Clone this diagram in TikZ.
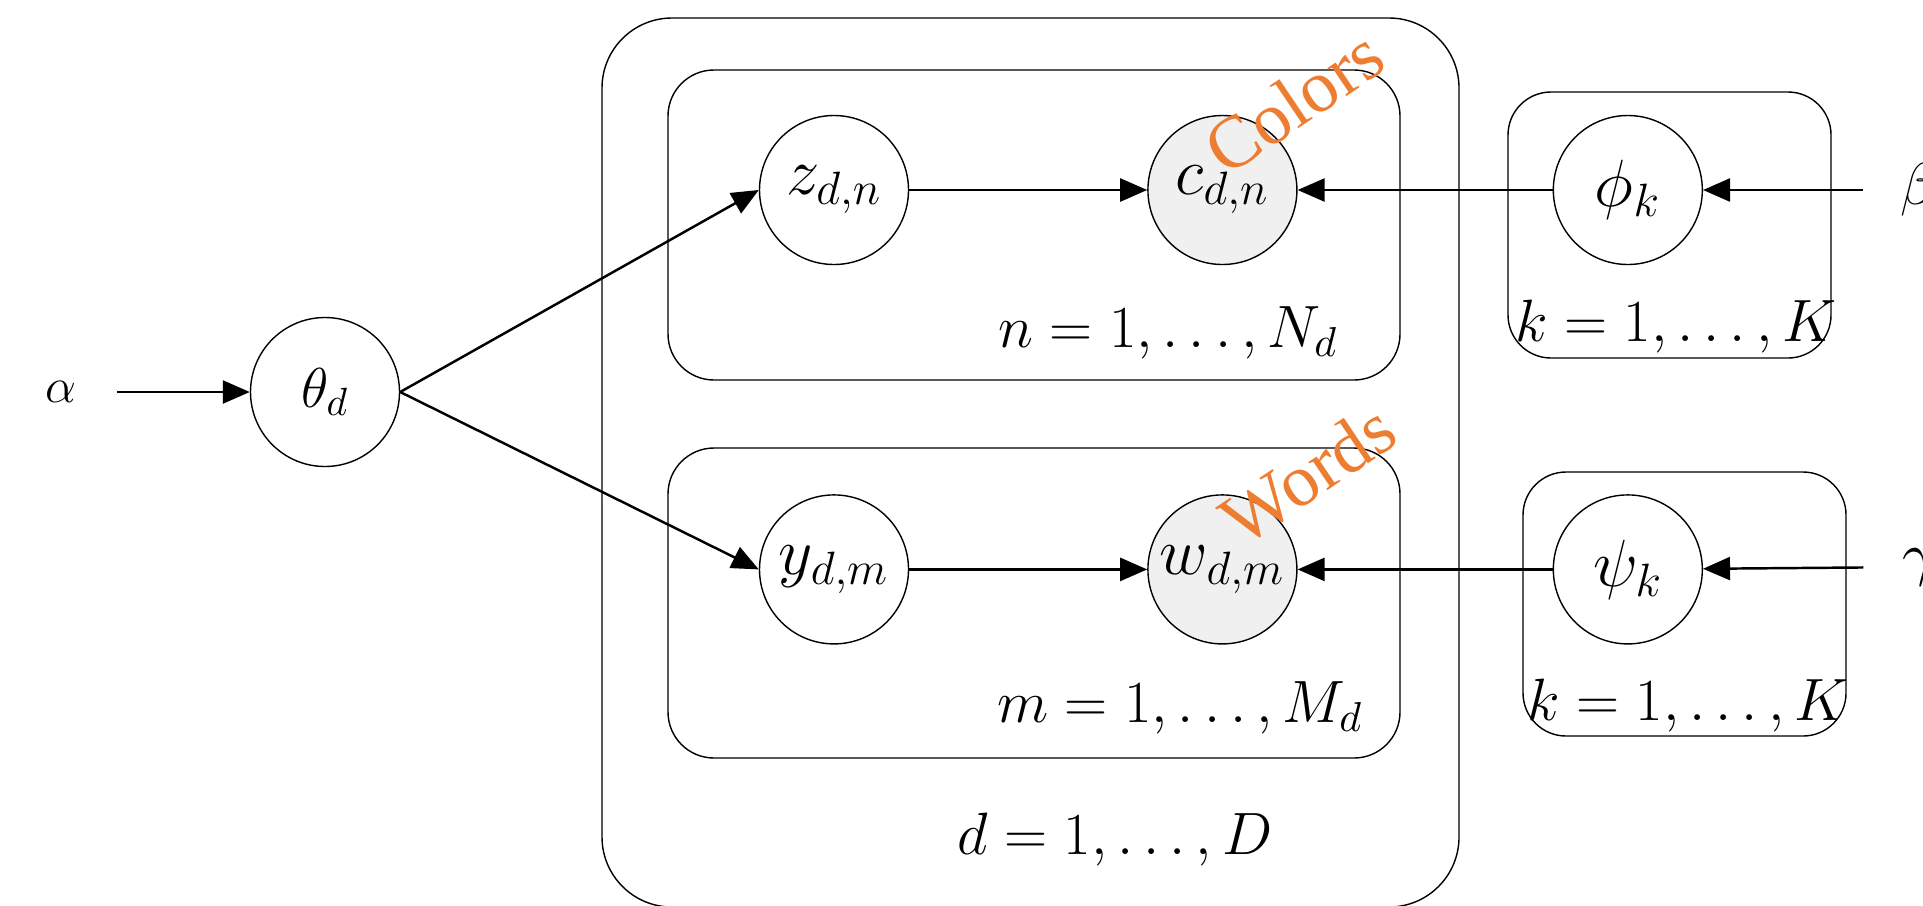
\documentclass[tikz,border=0pt]{standalone}
\usepackage{fix-cm}
\usepackage{fontspec}
\newfontfamily\tagfont{Liberation Serif}
\usetikzlibrary{arrows.meta, positioning}

\definecolor{tagorange}{HTML}{ED7D31}
\definecolor{obsgray}{HTML}{F0F0F0}

\begin{document}
\begin{tikzpicture}[
	  node distance=2.29cm and 2.38cm,
	  latent/.style={circle, draw=black, line width=0.4pt, minimum size=1.49cm, inner sep=0pt, font=\fontsize{19}{22}\selectfont},
	  observed/.style={latent, fill=obsgray},
	  hyper/.style={minimum width=1.1cm, inner sep=0pt, font=\fontsize{17}{20}\selectfont},
	  plate/.style={draw=black, line width=0.4pt, rounded corners=0.46cm},
	  platelabel/.style={inner sep=0pt, font=\fontsize{17}{20}\selectfont},
	  tag/.style={text=tagorange, rotate=34, inner sep=0pt, font=\tagfont\fontsize{21}{25}\selectfont},
	  arrow/.style={line width=0.7pt, -{Triangle[length=0.27cm, width=0.23cm]}}
	]

	\useasboundingbox (0,0) rectangle (19.23,9.05);

	% plates
	\draw [plate, rounded corners=0.7cm] (6.02,-0.02) rectangle (14.59,8.87);
	\draw [plate] (6.68,5.25) rectangle (14.00,8.35);
	\draw [plate] (6.68,1.47) rectangle (14.00,4.57);
	\draw [plate, rounded corners=0.43cm] (15.08,5.47) rectangle (18.31,8.13);
	\draw [plate, rounded corners=0.43cm] (15.23,1.69) rectangle (18.46,4.33);

	\node (theta) [latent, font=\fontsize{16}{19}\selectfont] at (3.25,5.13) {$\theta_d$};
	\node (z) [latent] at (8.34,7.15) {$z_{d,n}$};
	\node (c) [observed, right=of z] {$c_{d,n}$};
	\node (y) [latent, below=of z] {$y_{d,m}$};
	\node (w) [observed, right=of y] {$w_{d,m}$};
	\node (phi) [latent, right=2.55cm of c] {$\phi_k$};
	\node (psi) [latent, right=2.55cm of w] {$\psi_k$};
	\node (alpha) [hyper, font=\fontsize{14}{17}\selectfont] at (0.61,5.13) {$\alpha$};
	\node (beta) [hyper] at (19.19,7.15) {$\beta$};
	\node (gamma) [hyper] at (19.19,3.38) {$\gamma$};

	\node (nlabel) [platelabel] at (11.68,5.72) {$n = 1, \ldots, N_d$};
	\node (mlabel) [platelabel] at (11.80,1.97) {$m = 1, \ldots, M_d$};
	\node (dlabel) [platelabel] at (11.15,0.65) {$d = 1, \ldots, D$};
	\node (klabelphi) [platelabel] at (16.76,5.78) {$k = 1, \ldots, K$};
	\node (klabelpsi) [platelabel] at (16.88,1.99) {$k = 1, \ldots, K$};

	\node (colors) [tag] at (12.94,8.03) {Colors};
	\node (words) [tag] at (13.08,4.31) {Words};

	\draw [arrow] (alpha) -- (theta);
	\draw [arrow] (theta.east) -- (z.west);
	\draw [arrow] (theta.east) -- (y.west);
	\draw [arrow] (z) -- (c);
	\draw [arrow] (y) -- (w);
	\draw [arrow] (phi) -- (c);
	\draw [arrow] (psi) -- (w);
	\draw [arrow] (beta) -- (phi);
	\draw [arrow] (gamma) -- (psi);

	\end{tikzpicture}
\end{document}
